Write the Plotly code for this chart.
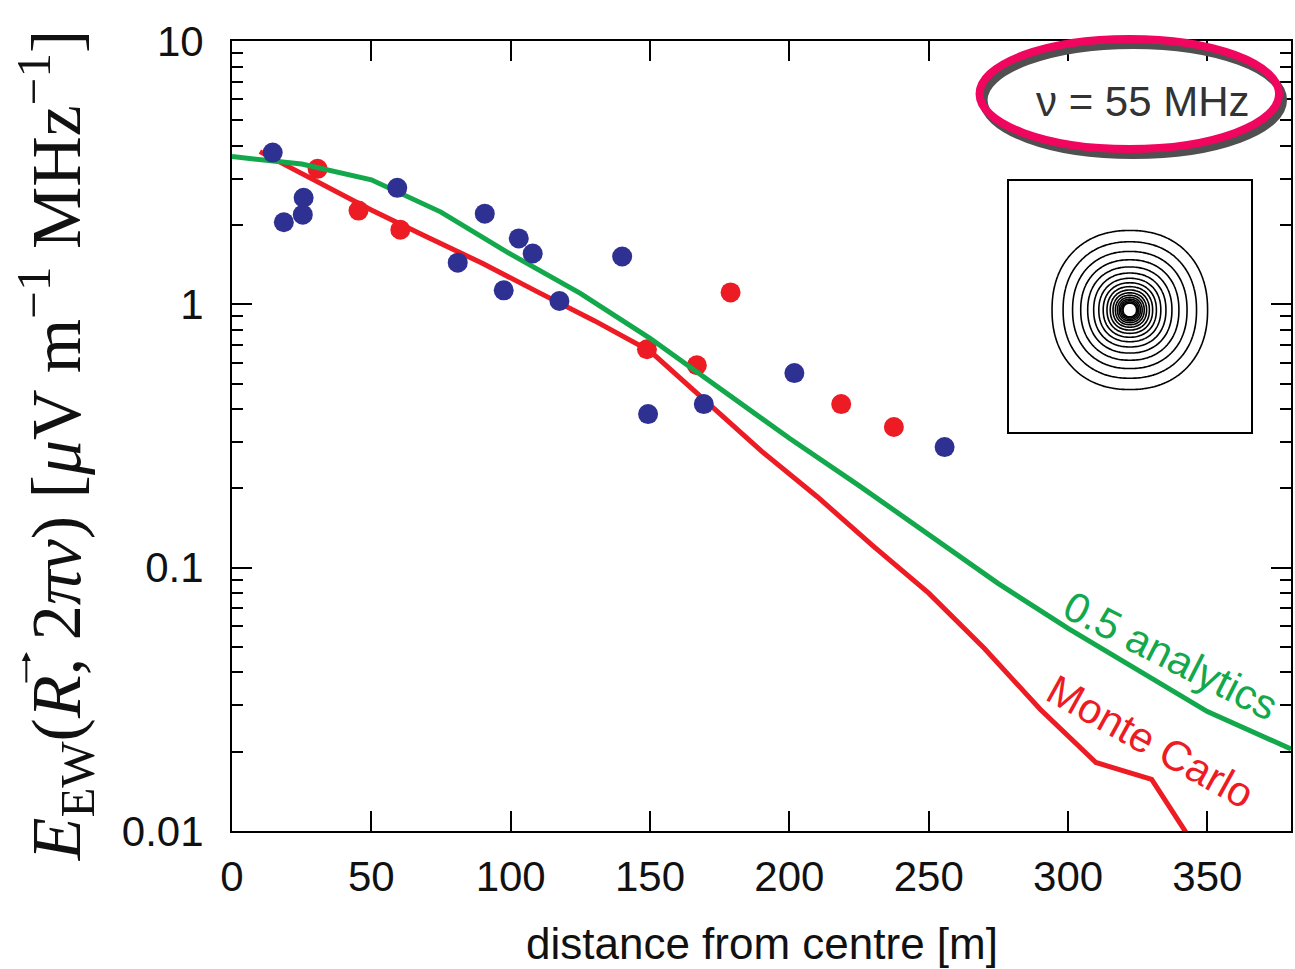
import numpy as np
import plotly.graph_objects as go

# ---------------- data ----------------
blue_x = [14.6, 18.6, 25.4, 25.7, 59.3, 81.0, 90.7, 97.5, 102.9, 107.9, 117.5, 140.0, 149.3, 169.3, 201.8, 255.7]
blue_y = [3.77, 2.05, 2.19, 2.54, 2.77, 1.44, 2.21, 1.13, 1.78, 1.56, 1.03, 1.52, 0.383, 0.418, 0.548, 0.287]

red_pts_x = [30.7, 45.4, 60.4, 148.9, 166.8, 178.9, 218.6, 237.5]
red_pts_y = [3.27, 2.27, 1.92, 0.675, 0.587, 1.11, 0.418, 0.342]

mc_x = [10, 30, 50, 70, 90, 110, 130, 150, 170, 190, 210, 230, 250, 270, 290, 310, 330, 350]
mc_y = [3.8, 2.95, 2.28, 1.80, 1.43, 1.11, 0.867, 0.664, 0.428, 0.277, 0.186, 0.121, 0.080,
        0.0493, 0.029, 0.0182, 0.0157, 0.0074]

an_x = [0, 25, 50, 75, 100, 125, 150, 175, 200, 225, 250, 275, 300, 325, 350, 380]
an_y = [3.64, 3.41, 2.97, 2.24, 1.55, 1.10, 0.743, 0.48, 0.31, 0.205, 0.133, 0.087, 0.0588,
        0.0407, 0.0284, 0.0205]

x_ticks = [0, 50, 100, 150, 200, 250, 300, 350]
y_ticks = [0.01, 0.1, 1, 10]
y_ticktext = ["0.01", "0.1", "1", "10"]
y_minor = [m * d for d in (0.01, 0.1, 1) for m in range(2, 10)]

# inset contour (footprint) levels: log10 of ring radii
ring_r_min, ring_r_max, ring_step = 6.7, 78.0, 0.0666

BLUE = "#2E3192"
RED = "#ED1C24"
GREEN = "#12A84B"
SANS = "Liberation Sans, Arial, Helvetica, sans-serif"
SERIF = "Liberation Serif, Times New Roman, serif"

fig = go.Figure()

fig.add_trace(go.Scatter(x=mc_x, y=mc_y, mode="lines",
                         line=dict(color=RED, width=5), showlegend=False))
fig.add_trace(go.Scatter(x=red_pts_x, y=red_pts_y, mode="markers",
                         marker=dict(color=RED, size=20), showlegend=False))
fig.add_trace(go.Scatter(x=an_x, y=an_y, mode="lines",
                         line=dict(color=GREEN, width=5), showlegend=False))
fig.add_trace(go.Scatter(x=blue_x, y=blue_y, mode="markers",
                         marker=dict(color=BLUE, size=20), showlegend=False))

# inset footprint contours
gx = np.arange(-120, 121, 1.5)
gy = np.arange(-121, 129.5, 1.5)
XX, YY = np.meshgrid(gx, gy)
p = 2.2
R = (np.abs(XX) ** p + np.abs(YY * 0.98) ** p) ** (1 / p)
Z = np.log10(np.maximum(R, 0.5))
fig.add_trace(go.Contour(x=gx, y=gy, z=Z, xaxis="x2", yaxis="y2",
                         contours=dict(coloring="lines", start=np.log10(ring_r_min),
                                       end=np.log10(ring_r_max), size=ring_step),
                         colorscale=[[0, "black"], [1, "black"]],
                         line=dict(width=1.6, smoothing=1),
                         showscale=False, hoverinfo="skip"))

axis_common = dict(showline=True, linecolor="black", linewidth=2, mirror="ticks",
                   ticks="inside", tickwidth=2, tickcolor="black", showgrid=False,
                   zeroline=False, tickfont=dict(family=SANS, size=42, color="#111"))

fig.update_layout(
    width=1295, height=969,
    margin=dict(l=232, r=2, t=41, b=138),
    paper_bgcolor="white", plot_bgcolor="white",
    font=dict(family=SANS),
    xaxis=dict(range=[0, 380], tickvals=x_ticks, ticklen=20,
               ticklabelstandoff=8, **axis_common),
    yaxis=dict(type="log", range=[-2, 1], tickvals=y_ticks, ticktext=y_ticktext,
               ticklen=20, ticklabelstandoff=18,
               minor=dict(tickmode="array", tickvals=y_minor, ticks="inside",
                          ticklen=11, tickwidth=2, tickcolor="black", showgrid=False),
               **axis_common),
    xaxis2=dict(domain=[0.7333, 0.962], range=[-121.5, 121.2], anchor="y2",
                showline=True, mirror=True, linecolor="black", linewidth=2,
                showticklabels=False, ticks="", showgrid=False, zeroline=False),
    yaxis2=dict(domain=[0.5054, 0.8232], range=[-121.7, 129.3], anchor="x2",
                showline=True, mirror=True, linecolor="black", linewidth=2,
                showticklabels=False, ticks="", showgrid=False, zeroline=False),
)

# highlighted label ellipse (shadow + magenta)
fig.add_shape(type="circle", xref="paper", yref="paper",
              x0=0.7097, x1=0.9925, y0=0.8557, y1=0.9950,
              line=dict(color="#505050", width=8))
fig.add_shape(type="circle", xref="paper", yref="paper",
              x0=0.7059, x1=0.9887, y0=0.8633, y1=1.0025,
              line=dict(color="#F0065F", width=8))

fig.add_annotation(text="ν = 55 MHz", xref="paper", yref="paper",
                   x=0.8605, y=0.924, xanchor="center", yanchor="middle",
                   showarrow=False, font=dict(family=SANS, size=42, color="#333"))

fig.add_annotation(text="0.5 analytics", xref="paper", yref="paper",
                   x=0.886, y=0.222, xanchor="center", yanchor="middle",
                   textangle=27, showarrow=False,
                   font=dict(family=SANS, size=42, color=GREEN))
fig.add_annotation(text="Monte Carlo", xref="paper", yref="paper",
                   x=0.867, y=0.113, xanchor="center", yanchor="middle",
                   textangle=29, showarrow=False,
                   font=dict(family=SANS, size=42, color=RED))

fig.add_annotation(text="distance from centre [m]", xref="paper", yref="paper",
                   x=0.5005, y=-0.1418, xanchor="center", yanchor="middle",
                   showarrow=False, font=dict(family=SANS, size=44, color="#111"))

fig.add_annotation(
    text="<i>E</i><sub>EW</sub>(<i>R</i>, 2<i>πν</i>) [<i>μ</i>V m<sup>−1</sup> MHz<sup>−1</sup>]",
    xref="paper", yref="paper", x=-0.1668, y=0.4886,
    xanchor="center", yanchor="middle", textangle=-90, showarrow=False,
    font=dict(family=SERIF, size=70, color="#111"))
# vector arrow over R (drawn as an arrow annotation, pointing along the reading direction)
fig.add_annotation(text="", xref="paper", yref="paper", x=-0.1942, y=0.2266,
                   ax=0, ay=32, axref="pixel", ayref="pixel", showarrow=True,
                   arrowhead=2, arrowsize=0.9, arrowwidth=2, arrowcolor="#111")

fig.write_html("out.html")
